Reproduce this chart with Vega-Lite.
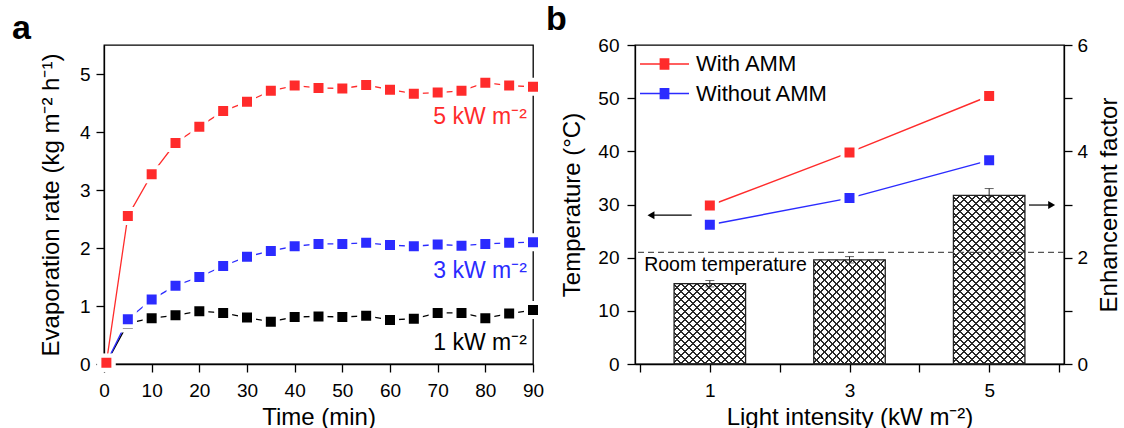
{
  "$schema": "https://vega.github.io/schema/vega-lite/v6.json",
  "padding": {"left": 11, "top": 2, "right": 0, "bottom": 0},
  "spacing": -4,
  "background": "white",
  "resolve": {"scale": {"color": "independent"}},
  "config": {
    "font": "Liberation Sans",
    "view": {"stroke": "black", "strokeWidth": 1.3},
    "axis": {"domainColor": "black", "domainWidth": 1.3, "tickColor": "black", "tickWidth": 1.3, "tickSize": 8, "labelColor": "black", "labelFontSize": 19, "titleFontSize": 24, "titleFontWeight": "normal", "titleColor": "black", "labelFont": "Liberation Sans", "titleFont": "Liberation Sans", "grid": false, "labelPadding": 6, "titlePadding": 8},
    "title": {"font": "Liberation Sans", "fontSize": 34, "fontWeight": "bold", "color": "black", "anchor": "start", "frame": "group", "baseline": "alphabetic", "offset": 0, "dy": 5}
  },
  "hconcat": [
    {
      "title": {"text": "a", "dx": -92},
      "width": 429,
      "height": 319,
      "data": {"values": [
        {"t": 0.5, "v": 0.02, "s": "1"}, {"t": 5, "v": 0.70, "s": "1"}, {"t": 10, "v": 0.79, "s": "1"}, {"t": 15, "v": 0.84, "s": "1"}, {"t": 20, "v": 0.91, "s": "1"}, {"t": 25, "v": 0.88, "s": "1"}, {"t": 30, "v": 0.80, "s": "1"}, {"t": 35, "v": 0.73, "s": "1"}, {"t": 40, "v": 0.81, "s": "1"}, {"t": 45, "v": 0.82, "s": "1"}, {"t": 50, "v": 0.81, "s": "1"}, {"t": 55, "v": 0.83, "s": "1"}, {"t": 60, "v": 0.76, "s": "1"}, {"t": 65, "v": 0.78, "s": "1"}, {"t": 70, "v": 0.88, "s": "1"}, {"t": 75, "v": 0.88, "s": "1"}, {"t": 80, "v": 0.79, "s": "1"}, {"t": 85, "v": 0.87, "s": "1"}, {"t": 90, "v": 0.93, "s": "1"},
        {"t": 0.5, "v": 0.02, "s": "3"}, {"t": 5, "v": 0.77, "s": "3"}, {"t": 10, "v": 1.11, "s": "3"}, {"t": 15, "v": 1.35, "s": "3"}, {"t": 20, "v": 1.50, "s": "3"}, {"t": 25, "v": 1.69, "s": "3"}, {"t": 30, "v": 1.85, "s": "3"}, {"t": 35, "v": 1.95, "s": "3"}, {"t": 40, "v": 2.03, "s": "3"}, {"t": 45, "v": 2.07, "s": "3"}, {"t": 50, "v": 2.07, "s": "3"}, {"t": 55, "v": 2.09, "s": "3"}, {"t": 60, "v": 2.05, "s": "3"}, {"t": 65, "v": 2.03, "s": "3"}, {"t": 70, "v": 2.06, "s": "3"}, {"t": 75, "v": 2.04, "s": "3"}, {"t": 80, "v": 2.07, "s": "3"}, {"t": 85, "v": 2.09, "s": "3"}, {"t": 90, "v": 2.10, "s": "3"},
        {"t": 0.5, "v": 0.02, "s": "5"}, {"t": 5, "v": 2.55, "s": "5"}, {"t": 10, "v": 3.27, "s": "5"}, {"t": 15, "v": 3.81, "s": "5"}, {"t": 20, "v": 4.09, "s": "5"}, {"t": 25, "v": 4.36, "s": "5"}, {"t": 30, "v": 4.52, "s": "5"}, {"t": 35, "v": 4.71, "s": "5"}, {"t": 40, "v": 4.80, "s": "5"}, {"t": 45, "v": 4.76, "s": "5"}, {"t": 50, "v": 4.75, "s": "5"}, {"t": 55, "v": 4.81, "s": "5"}, {"t": 60, "v": 4.73, "s": "5"}, {"t": 65, "v": 4.66, "s": "5"}, {"t": 70, "v": 4.68, "s": "5"}, {"t": 75, "v": 4.71, "s": "5"}, {"t": 80, "v": 4.85, "s": "5"}, {"t": 85, "v": 4.80, "s": "5"}, {"t": 90, "v": 4.78, "s": "5"}
      ]},
      "layer": [
        {
          "mark": {"type": "line", "strokeWidth": 1.3},
          "encoding": {
            "x": {"field": "t", "type": "quantitative", "scale": {"domain": [0, 90], "nice": false},
              "axis": {"values": [0, 5, 10, 15, 20, 25, 30, 35, 40, 45, 50, 55, 60, 65, 70, 75, 80, 85, 90], "labelExpr": "datum.value % 10 == 0 ? datum.value : ''", "labelFlush": false, "labelPadding": 9.5, "titlePadding": 5, "encode": {"ticks": {"y2": {"condition": {"test": "datum.value % 10 == 0", "value": 8}, "value": 4}}}, "title": "Time (min)"}},
            "y": {"field": "v", "type": "quantitative", "scale": {"domain": [0, 5.5], "nice": false},
              "axis": {"values": [0, 0.5, 1, 1.5, 2, 2.5, 3, 3.5, 4, 4.5, 5, 5.5], "labelExpr": "datum.value % 1 == 0 ? datum.value : ''", "labelPadding": 6, "titlePadding": 16, "encode": {"ticks": {"x2": {"condition": {"test": "datum.value % 1 == 0", "value": -8}, "value": -4}}}, "title": "Evaporation rate (kg m⁻² h⁻¹)"}},
            "color": {"field": "s", "type": "nominal", "scale": {"domain": ["1", "3", "5"], "range": ["#000000", "#2b2bff", "#ff2b2b"]}, "legend": null}
          }
        },
        {
          "mark": {"type": "point", "shape": "square", "filled": true, "size": 196, "stroke": "white", "strokeWidth": 4, "opacity": 1},
          "encoding": {
            "x": {"field": "t", "type": "quantitative"},
            "y": {"field": "v", "type": "quantitative"},
            "color": {"field": "s", "type": "nominal", "legend": null}
          }
        },
        {
          "data": {"values": [{}]},
          "mark": {"type": "text", "align": "right", "baseline": "alphabetic", "fontSize": 23, "color": "#ff2b2b", "text": "5 kW m⁻²"},
          "encoding": {"x": {"datum": 88.7}, "y": {"datum": 4.13}}
        },
        {
          "data": {"values": [{}]},
          "mark": {"type": "text", "align": "right", "baseline": "alphabetic", "fontSize": 23, "color": "#2b2bff", "text": "3 kW m⁻²"},
          "encoding": {"x": {"datum": 88.7}, "y": {"datum": 1.48}}
        },
        {
          "data": {"values": [{}]},
          "mark": {"type": "text", "align": "right", "baseline": "alphabetic", "fontSize": 23, "color": "#000000", "text": "1 kW m⁻²"},
          "encoding": {"x": {"datum": 88.7}, "y": {"datum": 0.25}}
        }
      ]
    },
    {
      "title": {"text": "b", "dx": -89},
      "width": 429,
      "height": 319,
      "resolve": {"scale": {"y": "independent"}},
      "layer": [
        {
          "data": {"values": [
            {"I": 1, "E": 1.51, "lo": 1.45, "hi": 1.57},
            {"I": 3, "E": 1.96, "lo": 1.90, "hi": 2.02},
            {"I": 5, "E": 3.17, "lo": 3.05, "hi": 3.30}
          ]},
          "layer": [
            {
              "mark": {"type": "bar", "width": 71.5, "color": {"gradient": "linear", "x1": 0, "y1": 0, "x2": 0.39612, "y2": 1.19943, "stops": [
                {"offset": 0, "color": "rgba(0,0,0,0)"}, {"offset": 0.02083, "color": "rgba(0,0,0,0)"}, {"offset": 0.02083, "color": "#2a2a2a"}, {"offset": 0.02778, "color": "#2a2a2a"},
                {"offset": 0.02778, "color": "rgba(0,0,0,0)"}, {"offset": 0.04861, "color": "rgba(0,0,0,0)"}, {"offset": 0.04861, "color": "#2a2a2a"}, {"offset": 0.05556, "color": "#2a2a2a"},
                {"offset": 0.05556, "color": "rgba(0,0,0,0)"}, {"offset": 0.07639, "color": "rgba(0,0,0,0)"}, {"offset": 0.07639, "color": "#2a2a2a"}, {"offset": 0.08333, "color": "#2a2a2a"},
                {"offset": 0.08333, "color": "rgba(0,0,0,0)"}, {"offset": 0.10417, "color": "rgba(0,0,0,0)"}, {"offset": 0.10417, "color": "#2a2a2a"}, {"offset": 0.11111, "color": "#2a2a2a"},
                {"offset": 0.11111, "color": "rgba(0,0,0,0)"}, {"offset": 0.13194, "color": "rgba(0,0,0,0)"}, {"offset": 0.13194, "color": "#2a2a2a"}, {"offset": 0.13889, "color": "#2a2a2a"},
                {"offset": 0.13889, "color": "rgba(0,0,0,0)"}, {"offset": 0.15972, "color": "rgba(0,0,0,0)"}, {"offset": 0.15972, "color": "#2a2a2a"}, {"offset": 0.16667, "color": "#2a2a2a"},
                {"offset": 0.16667, "color": "rgba(0,0,0,0)"}, {"offset": 0.1875, "color": "rgba(0,0,0,0)"}, {"offset": 0.1875, "color": "#2a2a2a"}, {"offset": 0.19444, "color": "#2a2a2a"},
                {"offset": 0.19444, "color": "rgba(0,0,0,0)"}, {"offset": 0.21528, "color": "rgba(0,0,0,0)"}, {"offset": 0.21528, "color": "#2a2a2a"}, {"offset": 0.22222, "color": "#2a2a2a"},
                {"offset": 0.22222, "color": "rgba(0,0,0,0)"}, {"offset": 0.24306, "color": "rgba(0,0,0,0)"}, {"offset": 0.24306, "color": "#2a2a2a"}, {"offset": 0.25, "color": "#2a2a2a"},
                {"offset": 0.25, "color": "rgba(0,0,0,0)"}, {"offset": 0.27083, "color": "rgba(0,0,0,0)"}, {"offset": 0.27083, "color": "#2a2a2a"}, {"offset": 0.27778, "color": "#2a2a2a"},
                {"offset": 0.27778, "color": "rgba(0,0,0,0)"}, {"offset": 0.29861, "color": "rgba(0,0,0,0)"}, {"offset": 0.29861, "color": "#2a2a2a"}, {"offset": 0.30556, "color": "#2a2a2a"},
                {"offset": 0.30556, "color": "rgba(0,0,0,0)"}, {"offset": 0.32639, "color": "rgba(0,0,0,0)"}, {"offset": 0.32639, "color": "#2a2a2a"}, {"offset": 0.33333, "color": "#2a2a2a"},
                {"offset": 0.33333, "color": "rgba(0,0,0,0)"}, {"offset": 0.35417, "color": "rgba(0,0,0,0)"}, {"offset": 0.35417, "color": "#2a2a2a"}, {"offset": 0.36111, "color": "#2a2a2a"},
                {"offset": 0.36111, "color": "rgba(0,0,0,0)"}, {"offset": 0.38194, "color": "rgba(0,0,0,0)"}, {"offset": 0.38194, "color": "#2a2a2a"}, {"offset": 0.38889, "color": "#2a2a2a"},
                {"offset": 0.38889, "color": "rgba(0,0,0,0)"}, {"offset": 0.40972, "color": "rgba(0,0,0,0)"}, {"offset": 0.40972, "color": "#2a2a2a"}, {"offset": 0.41667, "color": "#2a2a2a"},
                {"offset": 0.41667, "color": "rgba(0,0,0,0)"}, {"offset": 0.4375, "color": "rgba(0,0,0,0)"}, {"offset": 0.4375, "color": "#2a2a2a"}, {"offset": 0.44444, "color": "#2a2a2a"},
                {"offset": 0.44444, "color": "rgba(0,0,0,0)"}, {"offset": 0.46528, "color": "rgba(0,0,0,0)"}, {"offset": 0.46528, "color": "#2a2a2a"}, {"offset": 0.47222, "color": "#2a2a2a"},
                {"offset": 0.47222, "color": "rgba(0,0,0,0)"}, {"offset": 0.49306, "color": "rgba(0,0,0,0)"}, {"offset": 0.49306, "color": "#2a2a2a"}, {"offset": 0.5, "color": "#2a2a2a"},
                {"offset": 0.5, "color": "rgba(0,0,0,0)"}, {"offset": 0.52083, "color": "rgba(0,0,0,0)"}, {"offset": 0.52083, "color": "#2a2a2a"}, {"offset": 0.52778, "color": "#2a2a2a"},
                {"offset": 0.52778, "color": "rgba(0,0,0,0)"}, {"offset": 0.54861, "color": "rgba(0,0,0,0)"}, {"offset": 0.54861, "color": "#2a2a2a"}, {"offset": 0.55556, "color": "#2a2a2a"},
                {"offset": 0.55556, "color": "rgba(0,0,0,0)"}, {"offset": 0.57639, "color": "rgba(0,0,0,0)"}, {"offset": 0.57639, "color": "#2a2a2a"}, {"offset": 0.58333, "color": "#2a2a2a"},
                {"offset": 0.58333, "color": "rgba(0,0,0,0)"}, {"offset": 0.60417, "color": "rgba(0,0,0,0)"}, {"offset": 0.60417, "color": "#2a2a2a"}, {"offset": 0.61111, "color": "#2a2a2a"},
                {"offset": 0.61111, "color": "rgba(0,0,0,0)"}, {"offset": 0.63194, "color": "rgba(0,0,0,0)"}, {"offset": 0.63194, "color": "#2a2a2a"}, {"offset": 0.63889, "color": "#2a2a2a"},
                {"offset": 0.63889, "color": "rgba(0,0,0,0)"}, {"offset": 0.65972, "color": "rgba(0,0,0,0)"}, {"offset": 0.65972, "color": "#2a2a2a"}, {"offset": 0.66667, "color": "#2a2a2a"},
                {"offset": 0.66667, "color": "rgba(0,0,0,0)"}, {"offset": 0.6875, "color": "rgba(0,0,0,0)"}, {"offset": 0.6875, "color": "#2a2a2a"}, {"offset": 0.69444, "color": "#2a2a2a"},
                {"offset": 0.69444, "color": "rgba(0,0,0,0)"}, {"offset": 0.71528, "color": "rgba(0,0,0,0)"}, {"offset": 0.71528, "color": "#2a2a2a"}, {"offset": 0.72222, "color": "#2a2a2a"},
                {"offset": 0.72222, "color": "rgba(0,0,0,0)"}, {"offset": 0.74306, "color": "rgba(0,0,0,0)"}, {"offset": 0.74306, "color": "#2a2a2a"}, {"offset": 0.75, "color": "#2a2a2a"},
                {"offset": 0.75, "color": "rgba(0,0,0,0)"}, {"offset": 0.77083, "color": "rgba(0,0,0,0)"}, {"offset": 0.77083, "color": "#2a2a2a"}, {"offset": 0.77778, "color": "#2a2a2a"},
                {"offset": 0.77778, "color": "rgba(0,0,0,0)"}, {"offset": 0.79861, "color": "rgba(0,0,0,0)"}, {"offset": 0.79861, "color": "#2a2a2a"}, {"offset": 0.80556, "color": "#2a2a2a"},
                {"offset": 0.80556, "color": "rgba(0,0,0,0)"}, {"offset": 0.82639, "color": "rgba(0,0,0,0)"}, {"offset": 0.82639, "color": "#2a2a2a"}, {"offset": 0.83333, "color": "#2a2a2a"},
                {"offset": 0.83333, "color": "rgba(0,0,0,0)"}, {"offset": 0.85417, "color": "rgba(0,0,0,0)"}, {"offset": 0.85417, "color": "#2a2a2a"}, {"offset": 0.86111, "color": "#2a2a2a"},
                {"offset": 0.86111, "color": "rgba(0,0,0,0)"}, {"offset": 0.88194, "color": "rgba(0,0,0,0)"}, {"offset": 0.88194, "color": "#2a2a2a"}, {"offset": 0.88889, "color": "#2a2a2a"},
                {"offset": 0.88889, "color": "rgba(0,0,0,0)"}, {"offset": 0.90972, "color": "rgba(0,0,0,0)"}, {"offset": 0.90972, "color": "#2a2a2a"}, {"offset": 0.91667, "color": "#2a2a2a"},
                {"offset": 0.91667, "color": "rgba(0,0,0,0)"}, {"offset": 0.9375, "color": "rgba(0,0,0,0)"}, {"offset": 0.9375, "color": "#2a2a2a"}, {"offset": 0.94444, "color": "#2a2a2a"},
                {"offset": 0.94444, "color": "rgba(0,0,0,0)"}, {"offset": 0.96528, "color": "rgba(0,0,0,0)"}, {"offset": 0.96528, "color": "#2a2a2a"}, {"offset": 0.97222, "color": "#2a2a2a"},
                {"offset": 0.97222, "color": "rgba(0,0,0,0)"}, {"offset": 0.99306, "color": "rgba(0,0,0,0)"}, {"offset": 0.99306, "color": "#2a2a2a"}, {"offset": 1, "color": "#2a2a2a"}
              ]}},
              "encoding": {
                "x": {"field": "I", "type": "quantitative", "scale": {"domain": [0, 6], "nice": false},
                  "axis": {"values": [0, 0.5, 1, 1.5, 2, 2.5, 3, 3.5, 4, 4.5, 5, 5.5, 6], "labelExpr": "(datum.value == 1 || datum.value == 3 || datum.value == 5) ? datum.value : ''", "labelFlush": false, "labelPadding": 9.5, "titlePadding": 5, "encode": {"ticks": {"y2": {"condition": {"test": "datum.value % 2 == 0", "value": 8}, "value": 5}}}, "title": "Light intensity (kW m⁻²)"}},
                "y": {"datum": 0, "type": "quantitative", "scale": {"domain": [0, 6], "nice": false},
                  "axis": {"orient": "right", "values": [0, 1, 2, 3, 4, 5, 6], "labelExpr": "datum.value % 2 == 0 ? datum.value : ''", "labelPadding": 5, "titlePadding": 10, "encode": {"ticks": {"x2": {"condition": {"test": "datum.value % 2 == 0", "value": 8}, "value": 4}}}, "title": "Enhancement factor", "titleAngle": 270, "titleBaseline": "top"}},
                "y2": {"datum": 4.072}
              }
            },
            {
              "mark": {"type": "bar", "width": 71.5, "color": {"gradient": "linear", "x1": 0, "y1": 1, "x2": 0.39612, "y2": -0.19943, "stops": [
                {"offset": 0, "color": "rgba(0,0,0,0)"}, {"offset": 0.02083, "color": "rgba(0,0,0,0)"}, {"offset": 0.02083, "color": "#2a2a2a"}, {"offset": 0.02778, "color": "#2a2a2a"},
                {"offset": 0.02778, "color": "rgba(0,0,0,0)"}, {"offset": 0.04861, "color": "rgba(0,0,0,0)"}, {"offset": 0.04861, "color": "#2a2a2a"}, {"offset": 0.05556, "color": "#2a2a2a"},
                {"offset": 0.05556, "color": "rgba(0,0,0,0)"}, {"offset": 0.07639, "color": "rgba(0,0,0,0)"}, {"offset": 0.07639, "color": "#2a2a2a"}, {"offset": 0.08333, "color": "#2a2a2a"},
                {"offset": 0.08333, "color": "rgba(0,0,0,0)"}, {"offset": 0.10417, "color": "rgba(0,0,0,0)"}, {"offset": 0.10417, "color": "#2a2a2a"}, {"offset": 0.11111, "color": "#2a2a2a"},
                {"offset": 0.11111, "color": "rgba(0,0,0,0)"}, {"offset": 0.13194, "color": "rgba(0,0,0,0)"}, {"offset": 0.13194, "color": "#2a2a2a"}, {"offset": 0.13889, "color": "#2a2a2a"},
                {"offset": 0.13889, "color": "rgba(0,0,0,0)"}, {"offset": 0.15972, "color": "rgba(0,0,0,0)"}, {"offset": 0.15972, "color": "#2a2a2a"}, {"offset": 0.16667, "color": "#2a2a2a"},
                {"offset": 0.16667, "color": "rgba(0,0,0,0)"}, {"offset": 0.1875, "color": "rgba(0,0,0,0)"}, {"offset": 0.1875, "color": "#2a2a2a"}, {"offset": 0.19444, "color": "#2a2a2a"},
                {"offset": 0.19444, "color": "rgba(0,0,0,0)"}, {"offset": 0.21528, "color": "rgba(0,0,0,0)"}, {"offset": 0.21528, "color": "#2a2a2a"}, {"offset": 0.22222, "color": "#2a2a2a"},
                {"offset": 0.22222, "color": "rgba(0,0,0,0)"}, {"offset": 0.24306, "color": "rgba(0,0,0,0)"}, {"offset": 0.24306, "color": "#2a2a2a"}, {"offset": 0.25, "color": "#2a2a2a"},
                {"offset": 0.25, "color": "rgba(0,0,0,0)"}, {"offset": 0.27083, "color": "rgba(0,0,0,0)"}, {"offset": 0.27083, "color": "#2a2a2a"}, {"offset": 0.27778, "color": "#2a2a2a"},
                {"offset": 0.27778, "color": "rgba(0,0,0,0)"}, {"offset": 0.29861, "color": "rgba(0,0,0,0)"}, {"offset": 0.29861, "color": "#2a2a2a"}, {"offset": 0.30556, "color": "#2a2a2a"},
                {"offset": 0.30556, "color": "rgba(0,0,0,0)"}, {"offset": 0.32639, "color": "rgba(0,0,0,0)"}, {"offset": 0.32639, "color": "#2a2a2a"}, {"offset": 0.33333, "color": "#2a2a2a"},
                {"offset": 0.33333, "color": "rgba(0,0,0,0)"}, {"offset": 0.35417, "color": "rgba(0,0,0,0)"}, {"offset": 0.35417, "color": "#2a2a2a"}, {"offset": 0.36111, "color": "#2a2a2a"},
                {"offset": 0.36111, "color": "rgba(0,0,0,0)"}, {"offset": 0.38194, "color": "rgba(0,0,0,0)"}, {"offset": 0.38194, "color": "#2a2a2a"}, {"offset": 0.38889, "color": "#2a2a2a"},
                {"offset": 0.38889, "color": "rgba(0,0,0,0)"}, {"offset": 0.40972, "color": "rgba(0,0,0,0)"}, {"offset": 0.40972, "color": "#2a2a2a"}, {"offset": 0.41667, "color": "#2a2a2a"},
                {"offset": 0.41667, "color": "rgba(0,0,0,0)"}, {"offset": 0.4375, "color": "rgba(0,0,0,0)"}, {"offset": 0.4375, "color": "#2a2a2a"}, {"offset": 0.44444, "color": "#2a2a2a"},
                {"offset": 0.44444, "color": "rgba(0,0,0,0)"}, {"offset": 0.46528, "color": "rgba(0,0,0,0)"}, {"offset": 0.46528, "color": "#2a2a2a"}, {"offset": 0.47222, "color": "#2a2a2a"},
                {"offset": 0.47222, "color": "rgba(0,0,0,0)"}, {"offset": 0.49306, "color": "rgba(0,0,0,0)"}, {"offset": 0.49306, "color": "#2a2a2a"}, {"offset": 0.5, "color": "#2a2a2a"},
                {"offset": 0.5, "color": "rgba(0,0,0,0)"}, {"offset": 0.52083, "color": "rgba(0,0,0,0)"}, {"offset": 0.52083, "color": "#2a2a2a"}, {"offset": 0.52778, "color": "#2a2a2a"},
                {"offset": 0.52778, "color": "rgba(0,0,0,0)"}, {"offset": 0.54861, "color": "rgba(0,0,0,0)"}, {"offset": 0.54861, "color": "#2a2a2a"}, {"offset": 0.55556, "color": "#2a2a2a"},
                {"offset": 0.55556, "color": "rgba(0,0,0,0)"}, {"offset": 0.57639, "color": "rgba(0,0,0,0)"}, {"offset": 0.57639, "color": "#2a2a2a"}, {"offset": 0.58333, "color": "#2a2a2a"},
                {"offset": 0.58333, "color": "rgba(0,0,0,0)"}, {"offset": 0.60417, "color": "rgba(0,0,0,0)"}, {"offset": 0.60417, "color": "#2a2a2a"}, {"offset": 0.61111, "color": "#2a2a2a"},
                {"offset": 0.61111, "color": "rgba(0,0,0,0)"}, {"offset": 0.63194, "color": "rgba(0,0,0,0)"}, {"offset": 0.63194, "color": "#2a2a2a"}, {"offset": 0.63889, "color": "#2a2a2a"},
                {"offset": 0.63889, "color": "rgba(0,0,0,0)"}, {"offset": 0.65972, "color": "rgba(0,0,0,0)"}, {"offset": 0.65972, "color": "#2a2a2a"}, {"offset": 0.66667, "color": "#2a2a2a"},
                {"offset": 0.66667, "color": "rgba(0,0,0,0)"}, {"offset": 0.6875, "color": "rgba(0,0,0,0)"}, {"offset": 0.6875, "color": "#2a2a2a"}, {"offset": 0.69444, "color": "#2a2a2a"},
                {"offset": 0.69444, "color": "rgba(0,0,0,0)"}, {"offset": 0.71528, "color": "rgba(0,0,0,0)"}, {"offset": 0.71528, "color": "#2a2a2a"}, {"offset": 0.72222, "color": "#2a2a2a"},
                {"offset": 0.72222, "color": "rgba(0,0,0,0)"}, {"offset": 0.74306, "color": "rgba(0,0,0,0)"}, {"offset": 0.74306, "color": "#2a2a2a"}, {"offset": 0.75, "color": "#2a2a2a"},
                {"offset": 0.75, "color": "rgba(0,0,0,0)"}, {"offset": 0.77083, "color": "rgba(0,0,0,0)"}, {"offset": 0.77083, "color": "#2a2a2a"}, {"offset": 0.77778, "color": "#2a2a2a"},
                {"offset": 0.77778, "color": "rgba(0,0,0,0)"}, {"offset": 0.79861, "color": "rgba(0,0,0,0)"}, {"offset": 0.79861, "color": "#2a2a2a"}, {"offset": 0.80556, "color": "#2a2a2a"},
                {"offset": 0.80556, "color": "rgba(0,0,0,0)"}, {"offset": 0.82639, "color": "rgba(0,0,0,0)"}, {"offset": 0.82639, "color": "#2a2a2a"}, {"offset": 0.83333, "color": "#2a2a2a"},
                {"offset": 0.83333, "color": "rgba(0,0,0,0)"}, {"offset": 0.85417, "color": "rgba(0,0,0,0)"}, {"offset": 0.85417, "color": "#2a2a2a"}, {"offset": 0.86111, "color": "#2a2a2a"},
                {"offset": 0.86111, "color": "rgba(0,0,0,0)"}, {"offset": 0.88194, "color": "rgba(0,0,0,0)"}, {"offset": 0.88194, "color": "#2a2a2a"}, {"offset": 0.88889, "color": "#2a2a2a"},
                {"offset": 0.88889, "color": "rgba(0,0,0,0)"}, {"offset": 0.90972, "color": "rgba(0,0,0,0)"}, {"offset": 0.90972, "color": "#2a2a2a"}, {"offset": 0.91667, "color": "#2a2a2a"},
                {"offset": 0.91667, "color": "rgba(0,0,0,0)"}, {"offset": 0.9375, "color": "rgba(0,0,0,0)"}, {"offset": 0.9375, "color": "#2a2a2a"}, {"offset": 0.94444, "color": "#2a2a2a"},
                {"offset": 0.94444, "color": "rgba(0,0,0,0)"}, {"offset": 0.96528, "color": "rgba(0,0,0,0)"}, {"offset": 0.96528, "color": "#2a2a2a"}, {"offset": 0.97222, "color": "#2a2a2a"},
                {"offset": 0.97222, "color": "rgba(0,0,0,0)"}, {"offset": 0.99306, "color": "rgba(0,0,0,0)"}, {"offset": 0.99306, "color": "#2a2a2a"}, {"offset": 1, "color": "#2a2a2a"}
              ]}},
              "encoding": {
                "x": {"field": "I", "type": "quantitative"},
                "y": {"datum": 0, "type": "quantitative"},
                "y2": {"datum": 4.072}
              }
            },
            {
              "mark": {"type": "bar", "width": 76, "color": "white"},
              "encoding": {
                "x": {"field": "I", "type": "quantitative"},
                "y": {"field": "E", "type": "quantitative"},
                "y2": {"datum": 4.15}
              }
            },
            {
              "mark": {"type": "bar", "width": 71.5, "fill": "transparent", "stroke": "#222222", "strokeWidth": 1.3},
              "encoding": {
                "x": {"field": "I", "type": "quantitative"},
                "y": {"field": "E", "type": "quantitative"},
                "y2": {"datum": 0}
              }
            },
            {
              "mark": {"type": "rule", "color": "#222222", "strokeWidth": 1},
              "encoding": {
                "x": {"field": "I", "type": "quantitative"},
                "y": {"field": "lo", "type": "quantitative"},
                "y2": {"field": "hi"}
              }
            },
            {
              "mark": {"type": "tick", "orient": "horizontal", "color": "#222222", "size": 9, "thickness": 1},
              "encoding": {
                "x": {"field": "I", "type": "quantitative"},
                "y": {"field": "hi", "type": "quantitative"}
              }
            },
            {
              "mark": {"type": "tick", "orient": "horizontal", "color": "#222222", "size": 9, "thickness": 1},
              "encoding": {
                "x": {"field": "I", "type": "quantitative"},
                "y": {"field": "lo", "type": "quantitative"}
              }
            }
          ]
        },
        {
          "data": {"values": [
            {"I": 1, "T": 29.8, "g": "With AMM"}, {"I": 3, "T": 39.8, "g": "With AMM"}, {"I": 5, "T": 50.4, "g": "With AMM"},
            {"I": 1, "T": 26.2, "g": "Without AMM"}, {"I": 3, "T": 31.2, "g": "Without AMM"}, {"I": 5, "T": 38.3, "g": "Without AMM"}
          ]},
          "layer": [
            {
              "data": {"values": [{}]},
              "mark": {"type": "rule", "strokeDash": [6, 4], "color": "#555555", "strokeWidth": 1.2},
              "encoding": {
                "y": {"datum": 21, "type": "quantitative", "scale": {"domain": [0, 60], "nice": false},
                  "axis": {"orient": "left", "values": [0, 5, 10, 15, 20, 25, 30, 35, 40, 45, 50, 55, 60], "labelExpr": "datum.value % 10 == 0 ? datum.value : ''", "labelPadding": 8, "titlePadding": 13, "encode": {"ticks": {"x2": {"condition": {"test": "datum.value % 10 == 0", "value": -8}, "value": -4}}}, "title": "Temperature (°C)"}}
              }
            },
            {
              "mark": {"type": "line", "strokeWidth": 1.5},
              "encoding": {
                "x": {"field": "I", "type": "quantitative"},
                "y": {"field": "T", "type": "quantitative"},
                "color": {"field": "g", "type": "nominal", "scale": {"domain": ["With AMM", "Without AMM"], "range": ["#ff2b2b", "#2b2bff"]},
                  "legend": {"orient": "none", "legendX": 4, "legendY": 8, "title": null, "padding": 0, "symbolType": "M-1,0H1M-0.2,-0.2H0.2M-0.2,-0.15H0.2M-0.2,-0.1H0.2M-0.2,-0.05H0.2M-0.2,0H0.2M-0.2,0.05H0.2M-0.2,0.1H0.2M-0.2,0.15H0.2M-0.2,0.2H0.2", "symbolSize": 2401, "symbolStrokeWidth": 1.5, "clipHeight": 22, "rowPadding": 7.6, "labelFontSize": 22, "labelOffset": 6, "labelFont": "Liberation Sans", "labelColor": "black"}}
              }
            },
            {
              "mark": {"type": "point", "shape": "square", "filled": true, "size": 196, "stroke": "white", "strokeWidth": 4, "opacity": 1},
              "encoding": {
                "x": {"field": "I", "type": "quantitative"},
                "y": {"field": "T", "type": "quantitative"},
                "color": {"field": "g", "type": "nominal", "legend": null}
              }
            },
            {
              "data": {"values": [{}]},
              "mark": {"type": "text", "align": "left", "baseline": "alphabetic", "fontSize": 19.5, "color": "black", "text": "Room temperature"},
              "encoding": {"x": {"datum": 0.06}, "y": {"datum": 17.4}}
            },
            {
              "data": {"values": [{}]},
              "mark": {"type": "rule", "color": "black", "strokeWidth": 1.2},
              "encoding": {"x": {"datum": 0.157}, "x2": {"datum": 0.74}, "y": {"datum": 28.0}}
            },
            {
              "data": {"values": [{}]},
              "mark": {"type": "point", "shape": "triangle-left", "filled": true, "color": "black", "size": 64, "opacity": 1},
              "encoding": {"x": {"datum": 0.157}, "y": {"datum": 28.0}}
            },
            {
              "data": {"values": [{}]},
              "mark": {"type": "rule", "color": "black", "strokeWidth": 1.2},
              "encoding": {"x": {"datum": 5.57}, "x2": {"datum": 5.895}, "y": {"datum": 29.9}}
            },
            {
              "data": {"values": [{}]},
              "mark": {"type": "point", "shape": "triangle-right", "filled": true, "color": "black", "size": 64, "opacity": 1},
              "encoding": {"x": {"datum": 5.895}, "y": {"datum": 29.9}}
            }
          ]
        }
      ]
    }
  ]
}
